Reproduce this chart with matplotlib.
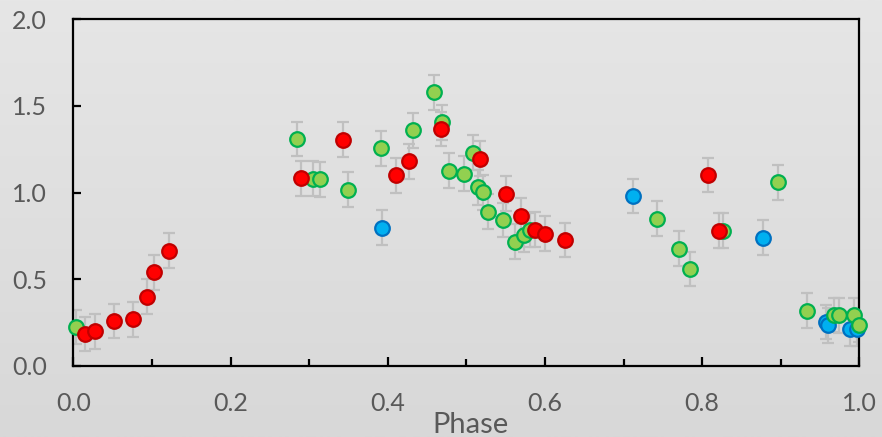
import numpy as np
import matplotlib
matplotlib.use("Agg")
from matplotlib import pyplot as plt
from matplotlib.ticker import MultipleLocator, FormatStrFormatter

plt.rcParams['font.family'] = ['Lato', 'DejaVu Sans']

# phase / value pairs, one group per colour
red_phase = [0.015, 0.028, 0.052, 0.076, 0.094, 0.103, 0.122, 0.290, 0.343,
             0.410, 0.427, 0.468, 0.517, 0.550, 0.570, 0.588, 0.600, 0.625,
             0.807, 0.822]
red_value = [0.185, 0.200, 0.260, 0.270, 0.400, 0.540, 0.665, 1.083, 1.306,
             1.100, 1.180, 1.368, 1.197, 0.995, 0.867, 0.786, 0.763, 0.726,
             1.102, 0.780]

green_phase = [0.004, 0.284, 0.305, 0.314, 0.349, 0.391, 0.432, 0.459, 0.469,
               0.478, 0.497, 0.509, 0.515, 0.521, 0.528, 0.547, 0.562, 0.574,
               0.581, 0.743, 0.770, 0.784, 0.827, 0.897, 0.934, 0.968, 0.974,
               0.993, 1.000]
green_value = [0.225, 1.310, 1.080, 1.076, 1.017, 1.256, 1.360, 1.578, 1.405,
               1.127, 1.110, 1.230, 1.030, 1.002, 0.891, 0.843, 0.717, 0.757,
               0.785, 0.850, 0.676, 0.560, 0.780, 1.060, 0.320, 0.295, 0.292,
               0.292, 0.237]

blue_phase = [0.393, 0.712, 0.878, 0.957, 0.960, 0.988, 0.997]
blue_value = [0.798, 0.980, 0.740, 0.254, 0.235, 0.214, 0.214]

err = 0.1

series = [
    (blue_phase, blue_value, '#00b0f0', '#0070c0'),
    (green_phase, green_value, '#92d050', '#00b050'),
    (red_phase, red_value, '#ff0000', '#c00000'),
]

fig = plt.figure(figsize=(8.82, 4.37), dpi=100)

# soft grey gradient background
bg = fig.add_axes([0, 0, 1, 1], zorder=-10)
grad = np.linspace(0, 1, 256).reshape(-1, 1)
bg.imshow(grad, aspect='auto', cmap=matplotlib.colors.LinearSegmentedColormap.from_list(
    'bg', ['#e6e6e6', '#d8d8d8']), extent=[0, 1, 0, 1], origin='upper')
bg.set_axis_off()

ax = fig.add_axes([0.0831, 0.1625, 0.8912, 0.7933])
ax.set_facecolor('none')

for xs, ys, face, edge in series:
    ax.errorbar(xs, ys, yerr=err, fmt='none', ecolor='#c0c0c0',
                elinewidth=1.6, capsize=4.5, capthick=1.6, zorder=2)

for i, (xs, ys, face, edge) in enumerate(series):
    ax.plot(xs, ys, 'o', ms=10.5, mfc=face, mec=edge, mew=1.6,
            zorder=3 + i, clip_on=False)

ax.set_xlim(0, 1)
ax.set_ylim(0, 2)
ax.xaxis.set_major_locator(MultipleLocator(0.2))
ax.xaxis.set_minor_locator(MultipleLocator(0.1))
ax.yaxis.set_major_locator(MultipleLocator(0.5))
ax.xaxis.set_major_formatter(FormatStrFormatter('%.1f'))
ax.yaxis.set_major_formatter(FormatStrFormatter('%.1f'))

for s in ax.spines.values():
    s.set_linewidth(1.6)
    s.set_color('black')

ax.tick_params(axis='both', which='both', direction='in', width=1.6,
               colors='black', labelcolor='#595959', labelsize=18)
ax.tick_params(axis='x', which='major', length=6.5, pad=19)
ax.tick_params(axis='x', which='minor', length=5)
ax.tick_params(axis='y', which='major', length=6, pad=19)
ax.tick_params(top=False, right=False, which='both')

ax.set_xlabel('Phase', fontsize=21, color='#595959', va='baseline')
ax.xaxis.set_label_coords(0.505, -0.192)

fig.savefig('out.png', dpi=100)
